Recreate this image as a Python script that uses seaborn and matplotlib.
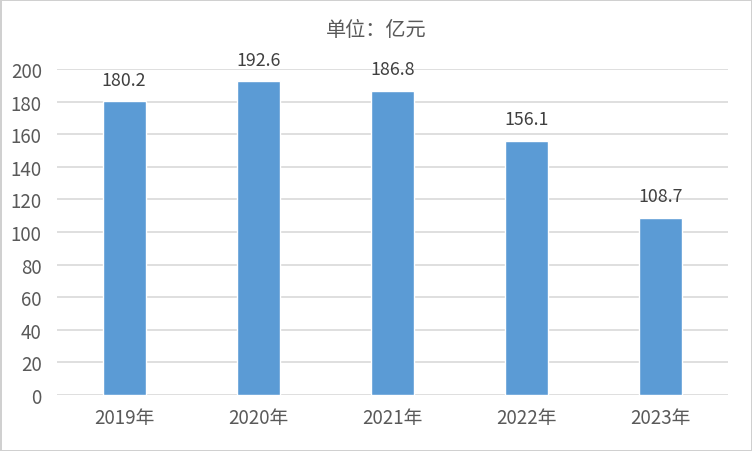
import pandas as pd
import matplotlib.pyplot as plt
import seaborn as sns

years = ["2019年", "2020年", "2021年", "2022年", "2023年"]
values = [180.2, 192.6, 186.8, 156.1, 108.7]
yticks = [0, 20, 40, 60, 80, 100, 120, 140, 160, 180, 200]

df = pd.DataFrame({"year": years, "value": values})

sns.set_style("white")
plt.rcParams['font.family'] = ['Noto Sans CJK SC', 'DejaVu Sans']

fig = plt.figure(figsize=(7.52, 4.52), dpi=100)
fig.patch.set_edgecolor("#D0D0D0")
fig.patch.set_linewidth(2)
ax = fig.add_axes([0.0758, 0.124, 0.892, 0.721])

sns.barplot(data=df, x="year", y="value", color="#5B9BD5", saturation=1, width=0.32, ax=ax, zorder=3)
ax.bar_label(ax.containers[0], fmt="%.1f", padding=9, fontsize=12.8, color="#404040")

ax.set_ylim(0, 200)
ax.set_yticks(yticks)
ax.yaxis.grid(True, color="#D9D9D9", linewidth=1.2, zorder=0)
ax.set_axisbelow(True)
for s in ax.spines.values():
    s.set_visible(False)
ax.tick_params(axis="both", length=0, labelsize=13.5, colors="#595959")
ax.tick_params(axis="y", pad=11)
ax.tick_params(axis="x", pad=9)
ax.set_xlabel("")
ax.set_ylabel("")

fig.text(0.5, 0.933, "单位：亿元", ha="center", va="center", fontsize=14.5, color="#595959")

plt.savefig("out.png", dpi=100, edgecolor=fig.get_edgecolor())
